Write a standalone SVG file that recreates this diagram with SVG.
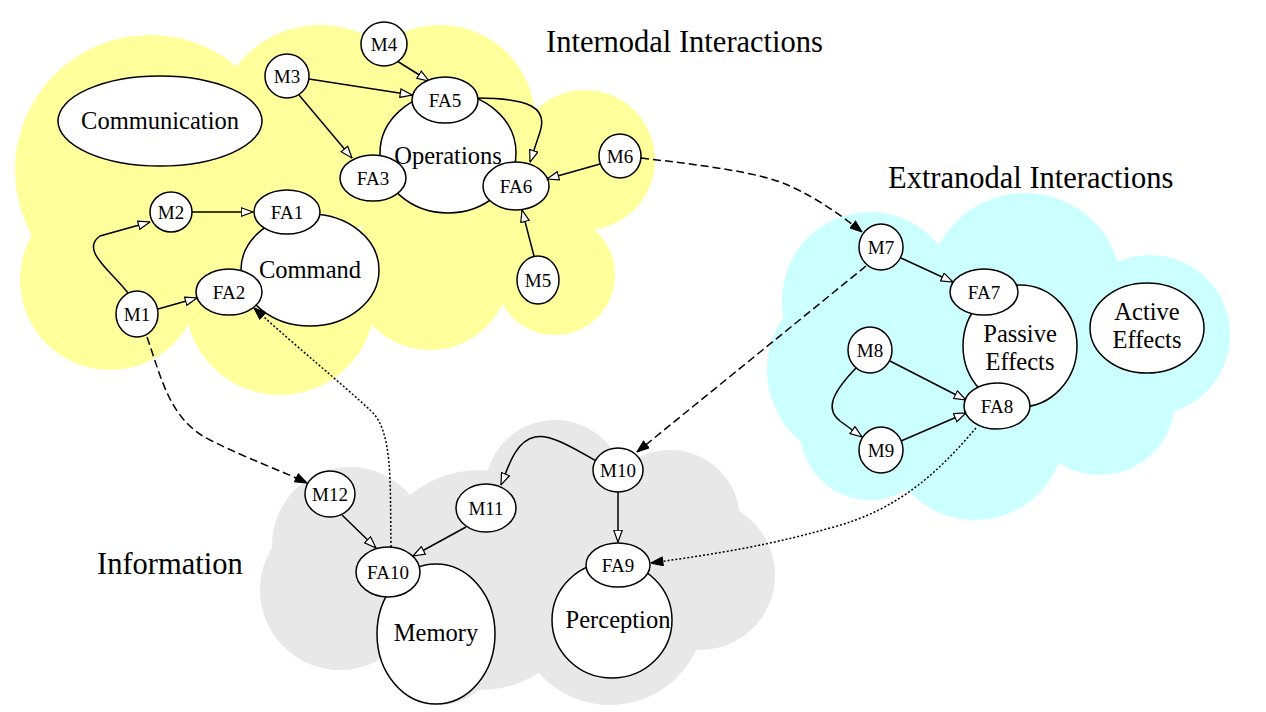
<svg xmlns="http://www.w3.org/2000/svg" width="1266" height="712" viewBox="0 0 1266 712">
<defs>
<style>
.n ellipse{fill:#fff;stroke:#000;stroke-width:1.5}
.n text{font-family:"Liberation Serif",serif;font-size:19px;text-anchor:middle;fill:#000}
.big text{font-size:24.5px}
.e{fill:none;stroke:#000;stroke-width:1.5}
.s{marker-end:url(#open)}
.d{stroke-dasharray:8,4;marker-end:url(#fill)}
.o{stroke-dasharray:2,2;marker-end:url(#fill)}
.lbl{font-family:"Liberation Serif",serif;font-size:30.5px;fill:#000}
</style>
<marker id="open" viewBox="0 0 13 10" markerWidth="13" markerHeight="10" refX="12.5" refY="5" orient="auto" markerUnits="userSpaceOnUse">
<path d="M0.7,0.7 L12.5,5 L0.7,9.3 z" fill="#fff" stroke="#000" stroke-width="1.2"/>
</marker>
<marker id="fill" viewBox="0 0 13 10" markerWidth="13" markerHeight="10" refX="12.5" refY="5" orient="auto" markerUnits="userSpaceOnUse">
<path d="M0.7,0.7 L12.5,5 L0.7,9.3 z" fill="#000" stroke="#000" stroke-width="1.2"/>
</marker>
</defs>
<rect width="1266" height="712" fill="#fff"/>
<g id="cloud-yellow" fill="#ffff9c">
<circle cx="150" cy="170" r="135"/>
<circle cx="320" cy="130" r="105"/>
<circle cx="440" cy="120" r="95"/>
<circle cx="585" cy="160" r="70"/>
<circle cx="555" cy="275" r="60"/>
<circle cx="110" cy="280" r="90"/>
<circle cx="280" cy="300" r="95"/>
<circle cx="430" cy="270" r="80"/>
<circle cx="510" cy="210" r="80"/>
</g>
<g id="cloud-cyan" fill="#ccffff">
<circle cx="1025" cy="290" r="97"/>
<circle cx="870" cy="300" r="88"/>
<circle cx="860" cy="370" r="93"/>
<circle cx="870" cy="430" r="70"/>
<circle cx="975" cy="430" r="90"/>
<circle cx="1150" cy="335" r="80"/>
<circle cx="1100" cy="400" r="75"/>
<circle cx="1060" cy="370" r="80"/>
</g>
<g id="cloud-grey" fill="#e8e8e8">
<circle cx="555" cy="490" r="70"/>
<circle cx="670" cy="520" r="70"/>
<circle cx="700" cy="575" r="75"/>
<circle cx="350" cy="545" r="78"/>
<circle cx="340" cy="590" r="80"/>
<circle cx="480" cy="580" r="110"/>
<circle cx="610" cy="610" r="95"/>
<circle cx="440" cy="650" r="55"/>
</g>
<text class="lbl" x="546" y="52">Internodal Interactions</text>
<text class="lbl" x="888" y="188">Extranodal Interactions</text>
<text class="lbl" x="97" y="574">Information</text>
<g id="Communication" class="n big"><ellipse cx="160" cy="121" rx="102" ry="45"/><text x="160" y="129">Communication</text></g>
<g id="Operations" class="n big"><ellipse cx="448" cy="153" rx="68" ry="60"/><text x="448" y="164">Operations</text></g>
<g id="Command" class="n big"><ellipse cx="310" cy="270" rx="69" ry="56"/><text x="310" y="278">Command</text></g>
<g id="PassiveEffects" class="n big"><ellipse cx="1020" cy="346" rx="57" ry="61"/><text x="1020" y="342">Passive</text><text x="1020" y="370">Effects</text></g>
<g id="ActiveEffects" class="n big"><ellipse cx="1147" cy="328" rx="57" ry="45"/><text x="1147" y="320">Active</text><text x="1147" y="348">Effects</text></g>
<g id="Memory" class="n big"><ellipse cx="436" cy="634" rx="59" ry="70"/><text x="436" y="641">Memory</text></g>
<g id="Perception" class="n big"><ellipse cx="612" cy="620" rx="60" ry="58"/><text x="618" y="628">Perception</text></g>
<g id="connectors">
<path class="e s" d="M397,61 L429,81"/>
<path class="e s" d="M309,79 L412,95"/>
<path class="e s" d="M299,95 L352,158"/>
<path class="e s" d="M476,98 C530,98 548,108 540,132 L530,162"/>
<path class="e s" d="M600,164 L547,179"/>
<path class="e s" d="M534,256 L522,210"/>
<path class="e s" d="M192,212 L253,212"/>
<path class="e s" d="M128,293 C110,270 80,250 100,236 L150,222"/>
<path class="e s" d="M158,309 L197,298"/>
<path class="e d" d="M147,337 C162,380 170,420 210,440 C250,460 280,470 307,483"/>
<path class="e o" d="M391,547 C390,480 393,430 370,410 C340,382 300,350 254,308"/>
<path class="e d" d="M641,158 C700,165 760,172 790,186 C820,200 842,216 862,232"/>
<path class="e s" d="M901,258 L953,282"/>
<path class="e d" d="M866,266 L637,452"/>
<path class="e s" d="M890,361 L966,400"/>
<path class="e s" d="M856,368 C830,395 826,410 840,421 L862,437"/>
<path class="e s" d="M901,441 L966,413"/>
<path class="e o" d="M976,428 C940,470 900,510 830,528 C760,548 700,556 651,563"/>
<path class="e s" d="M598,462 C570,446 550,434 535,437 C515,441 508,468 501,485"/>
<path class="e s" d="M618,492 L618,542"/>
<path class="e s" d="M342,515 L376,548"/>
<path class="e s" d="M466,527 L413,556"/>
</g>
<g id="M4" class="n"><ellipse cx="384" cy="44" rx="23" ry="22"/><text x="384" y="51">M4</text></g>
<g id="M3" class="n"><ellipse cx="287" cy="76" rx="22" ry="22"/><text x="287" y="83">M3</text></g>
<g id="FA5" class="n"><ellipse cx="445" cy="100" rx="33" ry="23"/><text x="445" y="107">FA5</text></g>
<g id="FA3" class="n"><ellipse cx="373" cy="178" rx="33" ry="23"/><text x="373" y="185">FA3</text></g>
<g id="FA6" class="n"><ellipse cx="516" cy="186" rx="33" ry="24"/><text x="516" y="193">FA6</text></g>
<g id="M6" class="n"><ellipse cx="620" cy="156" rx="21" ry="22"/><text x="620" y="163">M6</text></g>
<g id="M5" class="n"><ellipse cx="538" cy="280" rx="21" ry="24"/><text x="538" y="287">M5</text></g>
<g id="M2" class="n"><ellipse cx="171" cy="212" rx="21" ry="20"/><text x="171" y="219">M2</text></g>
<g id="FA1" class="n"><ellipse cx="287" cy="212" rx="33" ry="22"/><text x="287" y="219">FA1</text></g>
<g id="FA2" class="n"><ellipse cx="229" cy="292" rx="33" ry="23"/><text x="229" y="299">FA2</text></g>
<g id="M1" class="n"><ellipse cx="137" cy="314" rx="21" ry="23"/><text x="137" y="321">M1</text></g>
<g id="M7" class="n"><ellipse cx="881" cy="247" rx="22" ry="23"/><text x="881" y="254">M7</text></g>
<g id="FA7" class="n"><ellipse cx="984" cy="292" rx="34" ry="23"/><text x="984" y="299">FA7</text></g>
<g id="M8" class="n"><ellipse cx="870" cy="350" rx="22" ry="23"/><text x="870" y="357">M8</text></g>
<g id="FA8" class="n"><ellipse cx="997" cy="406" rx="33" ry="23"/><text x="997" y="413">FA8</text></g>
<g id="M9" class="n"><ellipse cx="881" cy="450" rx="22" ry="23"/><text x="881" y="457">M9</text></g>
<g id="M10" class="n"><ellipse cx="618" cy="470" rx="25" ry="22"/><text x="618" y="477">M10</text></g>
<g id="M11" class="n"><ellipse cx="486" cy="508" rx="30" ry="24"/><text x="486" y="515">M11</text></g>
<g id="M12" class="n"><ellipse cx="330" cy="494" rx="25" ry="23"/><text x="330" y="501">M12</text></g>
<g id="FA10" class="n"><ellipse cx="388" cy="572" rx="32" ry="25"/><text x="388" y="579">FA10</text></g>
<g id="FA9" class="n"><ellipse cx="618" cy="565" rx="32" ry="22"/><text x="618" y="572">FA9</text></g>
</svg>
